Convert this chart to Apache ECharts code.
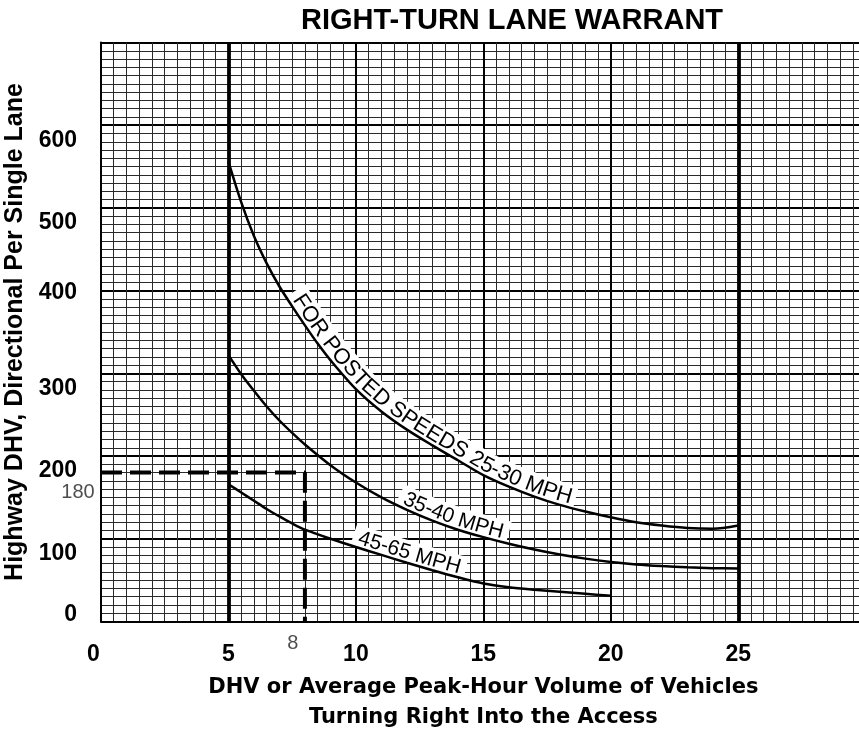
<!DOCTYPE html>
<html>
<head>
<meta charset="utf-8">
<script src="https://cdn.jsdelivr.net/npm/echarts@6/dist/echarts.min.js"></script>
<style>
  html, body { margin: 0; padding: 0; background: #fff; }
  #chart { width: 859px; height: 736px; }
</style>
</head>
<body>
<div id="chart"></div>
<script>
// ---- text ----
const chartTitle = 'RIGHT-TURN LANE WARRANT';
const xAxisTitle = 'DHV or Average Peak-Hour Volume of Vehicles\nTurning Right Into the Access';
const yAxisTitle = 'Highway DHV, Directional Per Single Lane';
const curveLabels = ['FOR POSTED SPEEDS 25-30 MPH', '35-40 MPH', '45-65 MPH'];

// ---- tick labels ----
const xTicks = [0, 5, 10, 15, 20, 25];
const yTicks = [0, 100, 200, 300, 400, 500, 600];

// ---- warrant curves: [right-turn volume, highway DHV] ----
const speed25to30 = [[5,556],[5.5,507],[6,466],[6.5,433],[7,405],[7.5,381],[8,358],[8.5,336],[9,316],[10,281],[11,254],[12,232],[13,213],[14,195],[15,177],[16,163],[17,151],[18,141],[19,133],[20,126],[21,120],[22,116],[23,113],[24,112],[25,116]];
const speed35to40 = [[5,322],[5.5,299],[6,279],[6.5,260],[7,243],[7.5,228],[8,214],[9,189],[10,168],[11,150],[12,135],[13,122],[14,111],[15,102],[16,94],[17,87],[18,81],[19,76],[20,72],[21,69],[22,67],[23,65.5],[24,64.5],[25,64]];
const speed45to65 = [[5,166],[5.5,156],[6,146],[6.5,136],[7,127],[7.5,118.5],[8,111],[9,100],[10,90],[11,80.5],[12,71],[13,62],[14,53.5],[15,46],[16,41.5],[17,38.5],[18,36],[19,33.5],[20,31]];

// ---- worked example ----
const exampleVolume = 8;
const exampleDHV = 180;

// ---- warrant limits on turning volume ----
const volumeLimits = [5, 25];

const SANS = '"Liberation Sans", Arial, Helvetica, sans-serif';
const WIDE = '"DejaVu Sans", Verdana, sans-serif';

const chart = echarts.init(document.getElementById('chart'));

const curveStyle = { color: '#000', width: 2.5 };
const tickFont = { color: '#000', fontFamily: SANS, fontWeight: 'bold', fontSize: 23 };

const option = {
  animation: false,
  backgroundColor: '#fff',
  title: {
    text: chartTitle,
    left: 507,
    top: 1,
    textAlign: 'center',
    textStyle: { fontFamily: SANS, fontWeight: 'bold', fontSize: 29, color: '#000' }
  },
  grid: { left: 101, top: 42.5, width: 764.7, height: 579, containLabel: false, outerBoundsMode: 'none' },
  xAxis: {
    type: 'value', min: 0, max: 30, interval: 5,
    name: xAxisTitle, nameLocation: 'middle', nameGap: 51,
    nameTextStyle: { fontFamily: WIDE, fontWeight: 'bold', fontSize: 21, color: '#000', lineHeight: 30 },
    axisLine: { show: true, onZero: false, lineStyle: { color: '#000', width: 2 } },
    axisTick: { show: false },
    axisLabel: {
      margin: 22,
      customValues: xTicks,
      ...tickFont,
      formatter: v => v === 0 ? '{z|0}' : String(v),
      rich: { z: { padding: [0, 15, 0, 0], ...tickFont } }
    },
    splitLine: { show: true, lineStyle: { color: '#000', width: 2 } },
    minorTick: { show: false, splitNumber: 10 },
    minorSplitLine: { show: true, lineStyle: { color: '#2a2a2a', width: 1 } }
  },
  yAxis: {
    type: 'value', min: 0, max: 700, interval: 100,
    name: yAxisTitle, nameLocation: 'middle', nameGap: 66, nameRotate: 90,
    nameTextStyle: { fontFamily: SANS, fontWeight: 'bold', fontSize: 25, color: '#000' },
    axisLine: { show: true, lineStyle: { color: '#000', width: 2 } },
    axisTick: { show: false },
    axisLabel: {
      margin: 24,
      customValues: yTicks,
      formatter: v => v === 0 ? '{z|0}' : (v === 400 ? '{m|400}' : '{n|' + v + '}'),
      rich: {
        n: { padding: [30, 0, 0, 0], ...tickFont },
        m: { padding: [4, 0, 0, 0], ...tickFont },
        z: { padding: [0, 0, 13, 0], ...tickFont }
      }
    },
    splitLine: { show: true, lineStyle: { color: '#000', width: 2 } },
    minorTick: { show: false, splitNumber: 10 },
    minorSplitLine: { show: true, lineStyle: { color: '#2a2a2a', width: 1 } }
  },
  series: [
    {
      name: '25-30 MPH', type: 'line', data: speed25to30, smooth: 0.3,
      symbol: 'none', z: 3, lineStyle: curveStyle,
      markLine: {
        silent: true, symbol: 'none', label: { show: false },
        lineStyle: { color: '#000', width: 3.8, type: 'solid' },
        data: volumeLimits.map(v => ({ xAxis: v }))
      }
    },
    { name: '35-40 MPH', type: 'line', data: speed35to40, smooth: 0.3, symbol: 'none', z: 3, lineStyle: curveStyle },
    { name: '45-65 MPH', type: 'line', data: speed45to65, smooth: 0.3, symbol: 'none', z: 3, lineStyle: curveStyle },
    {
      name: 'example', type: 'line', symbol: 'none', z: 4,
      data: [[0, exampleDHV], [exampleVolume, exampleDHV], [exampleVolume, 0]],
      lineStyle: { color: '#000', width: 4, type: [21, 8] }
    },
    {
      name: 'example labels', type: 'scatter', clip: false, symbolSize: 1, z: 5,
      itemStyle: { color: 'rgba(0,0,0,0)' },
      label: { show: true, position: 'inside', color: '#222', fontFamily: SANS, fontSize: 20 },
      data: [
        { value: [0, exampleDHV], label: { formatter: String(exampleDHV), offset: [-23, 20] } },
        { value: [exampleVolume, 0], label: { formatter: String(exampleVolume), offset: [-12, 22] } }
      ]
    }
  ]
};

chart.setOption(option);

// ---- lettering that follows a curve ----
const measureCtx = document.createElement('canvas').getContext('2d');

function curveLettering(points, text, startX, fontSize) {
  const pix = points.map(p => chart.convertToPixel({ gridIndex: 0 }, p));
  const cum = [0];
  for (let i = 1; i < pix.length; i++) {
    cum.push(cum[i - 1] + Math.hypot(pix[i][0] - pix[i - 1][0], pix[i][1] - pix[i - 1][1]));
  }
  const total = cum[cum.length - 1];
  function pointAt(s) {
    s = Math.max(0, Math.min(total, s));
    let i = 0;
    while (i < pix.length - 2 && cum[i + 1] < s) i++;
    const seg = cum[i + 1] - cum[i] || 1;
    const t = (s - cum[i]) / seg;
    return [pix[i][0] + (pix[i + 1][0] - pix[i][0]) * t, pix[i][1] + (pix[i + 1][1] - pix[i][1]) * t];
  }
  function frameAt(s) {
    const p = pointAt(s);
    const a = pointAt(s - 8), b = pointAt(s + 8);
    let tx = b[0] - a[0], ty = b[1] - a[1];
    const l = Math.hypot(tx, ty) || 1;
    tx /= l; ty /= l;
    // normal pointing to the upper-right side of the curve
    return { x: p[0], y: p[1], tx, ty, nx: ty, ny: -tx };
  }
  // arc position where the lettering starts
  const sxPix = chart.convertToPixel({ xAxisIndex: 0 }, startX);
  let s0 = 0;
  for (let s = 0; s <= total; s += 0.5) {
    if (pointAt(s)[0] >= sxPix) { s0 = s; break; }
  }
  const font = fontSize + 'px ' + SANS;
  measureCtx.font = font;
  const lift = 2 + 0.36 * fontSize;
  const chars = [];
  let s = s0;
  for (const ch of text) {
    const w = measureCtx.measureText(ch).width;
    const f = frameAt(s + w / 2);
    chars.push({
      type: 'text', z: 4, silent: true,
      x: f.x + f.nx * lift, y: f.y + f.ny * lift,
      rotation: -Math.atan2(f.ty, f.tx),
      style: { text: ch, font, fill: '#000', align: 'center', verticalAlign: 'middle',
               textAlign: 'center', textVerticalAlign: 'middle' }
    });
    s += w;
  }
  // white band behind the lettering
  const band = [];
  const bandH = fontSize - 1;
  for (let q = s0 - 6; q <= s + 6; q += 2) {
    const f = frameAt(q);
    band.push([f.x + f.nx * (bandH / 2 + 1), f.y + f.ny * (bandH / 2 + 1)]);
  }
  const bandEl = {
    type: 'polyline', z: 1, silent: true,
    shape: { points: band },
    style: { stroke: '#fff', lineWidth: bandH + 2, fill: null, lineJoin: 'round', lineCap: 'butt' }
  };
  return [bandEl].concat(chars);
}

const graphics = []
  .concat(curveLettering(speed25to30, curveLabels[0], 7.38, 22))
  .concat(curveLettering(speed35to40, curveLabels[1], 11.75, 21))
  .concat(curveLettering(speed45to65, curveLabels[2], 10.0, 21));

chart.setOption({ graphic: graphics });
</script>
</body>
</html>
